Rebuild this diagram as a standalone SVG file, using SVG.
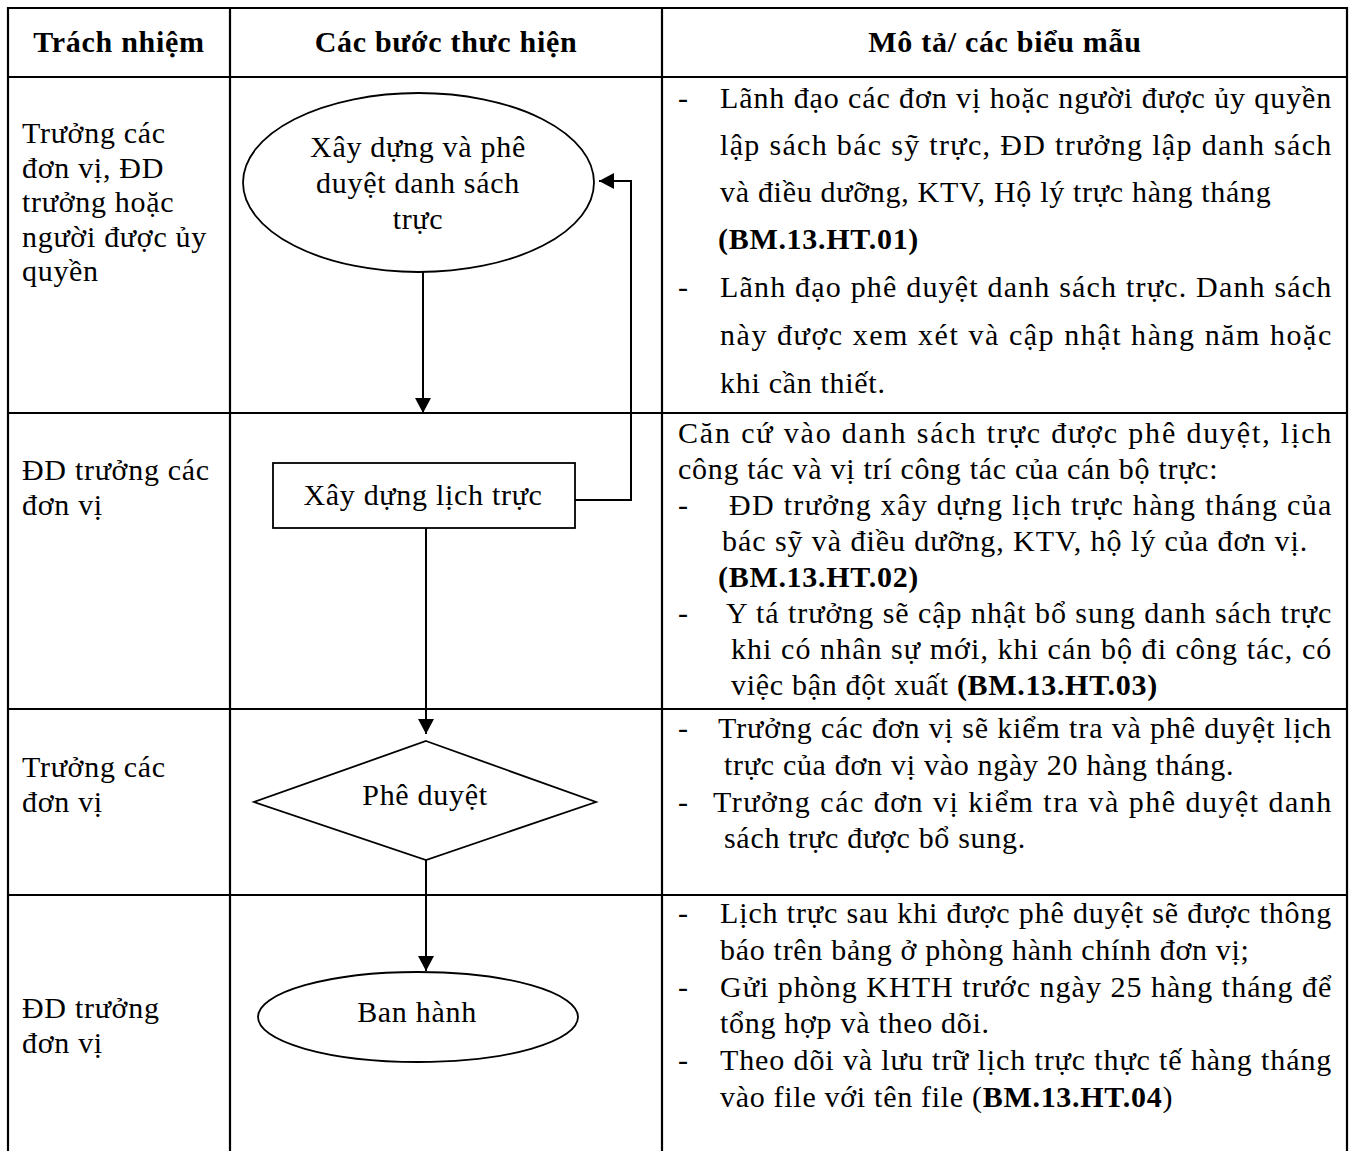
<svg xmlns="http://www.w3.org/2000/svg" width="1351" height="1151" viewBox="0 0 1351 1151">
<style>
.t{font-family:"Liberation Serif","Times New Roman",serif;font-size:30px;letter-spacing:0.7px;fill:#000}
.b{font-weight:bold}
.c{text-anchor:middle}
.grid{stroke:#000;stroke-width:2.2;fill:none}
.shape{stroke:#000;stroke-width:1.8;fill:#fff}
.conn{stroke:#000;stroke-width:2;fill:none}
</style>
<defs>
<marker id="ah" markerUnits="userSpaceOnUse" markerWidth="16" markerHeight="16" refX="15" refY="8" orient="auto">
<path d="M0,0 L15,8 L0,16 Z" fill="#000"/>
</marker>
</defs>
<rect width="1351" height="1151" fill="#fff"/>
<g id="table" class="grid">
<line x1="7" y1="8" x2="1348" y2="8"/>
<line x1="7" y1="77" x2="1348" y2="77"/>
<line x1="7" y1="413" x2="1348" y2="413"/>
<line x1="7" y1="709" x2="1348" y2="709"/>
<line x1="7" y1="895" x2="1348" y2="895"/>
<line x1="8" y1="7" x2="8" y2="1151"/>
<line x1="230" y1="7" x2="230" y2="1151"/>
<line x1="662" y1="7" x2="662" y2="1151"/>
<line x1="1347" y1="7" x2="1347" y2="1151"/>
</g>
<g id="header">
<text class="t b c" x="119" y="52">Trách nhiệm</text>
<text class="t b c" x="446" y="52">Các bước thưc hiện</text>
<text class="t b c" x="1005" y="52">Mô tả/ các biểu mẫu</text>
</g>
<g id="responsibility">
<text class="t" x="22" y="143">Trưởng các</text>
<text class="t" x="22" y="177.5">đơn vị, ĐD</text>
<text class="t" x="22" y="212">trưởng hoặc</text>
<text class="t" x="22" y="246.5">người được ủy</text>
<text class="t" x="22" y="281">quyền</text>
<text class="t" x="22" y="480">ĐD trưởng các</text>
<text class="t" x="22" y="515">đơn vị</text>
<text class="t" x="22" y="777">Trưởng các</text>
<text class="t" x="22" y="812">đơn vị</text>
<text class="t" x="22" y="1018">ĐD trưởng</text>
<text class="t" x="22" y="1053">đơn vị</text>
</g>
<g id="connectors">
<line class="conn" x1="423" y1="272" x2="423" y2="413" marker-end="url(#ah)"/>
<line class="conn" x1="426" y1="528" x2="426" y2="734" marker-end="url(#ah)"/>
<line class="conn" x1="426" y1="860" x2="426" y2="971" marker-end="url(#ah)"/>
<polyline class="conn" points="575,500 631,500 631,181 599,181" marker-end="url(#ah)"/>
</g>
<g id="node-xay-dung-danh-sach">
<ellipse class="shape" cx="418.5" cy="182.5" rx="175.5" ry="89.5"/>
<text class="t c" x="418" y="157">Xây dựng và phê</text>
<text class="t c" x="418" y="193">duyệt danh sách</text>
<text class="t c" x="418" y="229">trực</text>
</g>
<g id="node-xay-dung-lich-truc">
<rect class="shape" x="273" y="463" width="302" height="65"/>
<text class="t c" x="423" y="505">Xây dựng lịch trực</text>
</g>
<g id="node-phe-duyet">
<polygon class="shape" points="426,741 596,802 426,860 254,802"/>
<text class="t c" x="425" y="805">Phê duyệt</text>
</g>
<g id="node-ban-hanh">
<ellipse class="shape" cx="418" cy="1017" rx="160" ry="45"/>
<text class="t c" x="417" y="1022">Ban hành</text>
</g>
<g id="description">
<text class="t" x="678" y="108">-</text>
<text class="t" x="720" y="108" textLength="612" lengthAdjust="spacing">Lãnh đạo các đơn vị hoặc người được ủy quyền</text>
<text class="t" x="720" y="155" textLength="612" lengthAdjust="spacing">lập sách bác sỹ trực, ĐD trưởng lập danh sách</text>
<text class="t" x="720" y="202">và điều dưỡng, KTV, Hộ lý trực hàng tháng</text>
<text class="t b" x="718" y="249">(BM.13.HT.01)</text>
<text class="t" x="678" y="297">-</text>
<text class="t" x="720" y="297" textLength="612" lengthAdjust="spacing">Lãnh đạo phê duyệt danh sách trực. Danh sách</text>
<text class="t" x="720" y="345" textLength="612" lengthAdjust="spacing">này được xem xét và cập nhật hàng năm hoặc</text>
<text class="t" x="720" y="393">khi cần thiết.</text>

<text class="t" x="678" y="443" textLength="654" lengthAdjust="spacing">Căn cứ vào danh sách trực được phê duyệt, lịch</text>
<text class="t" x="678" y="479">công tác và vị trí công tác của cán bộ trực:</text>
<text class="t" x="678" y="515">-</text>
<text class="t" x="729" y="515" textLength="603" lengthAdjust="spacing">ĐD trưởng xây dựng lịch trực hàng tháng của</text>
<text class="t" x="722" y="551" textLength="586" lengthAdjust="spacing">bác sỹ và điều dưỡng, KTV, hộ lý của đơn vị.</text>
<text class="t b" x="718" y="587">(BM.13.HT.02)</text>
<text class="t" x="678" y="623">-</text>
<text class="t" x="726" y="623" textLength="606" lengthAdjust="spacing">Y tá trưởng sẽ cập nhật bổ sung danh sách trực</text>
<text class="t" x="731" y="659" textLength="601" lengthAdjust="spacing">khi có nhân sự mới, khi cán bộ đi công tác, có</text>
<text class="t" x="731" y="695">việc bận đột xuất <tspan class="b">(BM.13.HT.03)</tspan></text>

<text class="t" x="678" y="738">-</text>
<text class="t" x="718" y="738" textLength="614" lengthAdjust="spacing">Trưởng các đơn vị sẽ kiểm tra và phê duyệt lịch</text>
<text class="t" x="724" y="775">trực của đơn vị vào ngày 20 hàng tháng.</text>
<text class="t" x="678" y="812">-</text>
<text class="t" x="713" y="812" textLength="619" lengthAdjust="spacing">Trưởng các đơn vị kiểm tra và phê duyệt danh</text>
<text class="t" x="724" y="848">sách trực được bổ sung.</text>

<text class="t" x="678" y="923">-</text>
<text class="t" x="720" y="923" textLength="612" lengthAdjust="spacing">Lịch trực sau khi được phê duyệt sẽ được thông</text>
<text class="t" x="720" y="960">báo trên bảng ở phòng hành chính đơn vị;</text>
<text class="t" x="678" y="997">-</text>
<text class="t" x="720" y="997" textLength="612" lengthAdjust="spacing">Gửi phòng KHTH trước ngày 25 hàng tháng để</text>
<text class="t" x="720" y="1033">tổng hợp và theo dõi.</text>
<text class="t" x="678" y="1070">-</text>
<text class="t" x="720" y="1070" textLength="612" lengthAdjust="spacing">Theo dõi và lưu trữ lịch trực thực tế hàng tháng</text>
<text class="t" x="720" y="1107">vào file với tên file (<tspan class="b">BM.13.HT.04</tspan>)</text>
</g>
</svg>
